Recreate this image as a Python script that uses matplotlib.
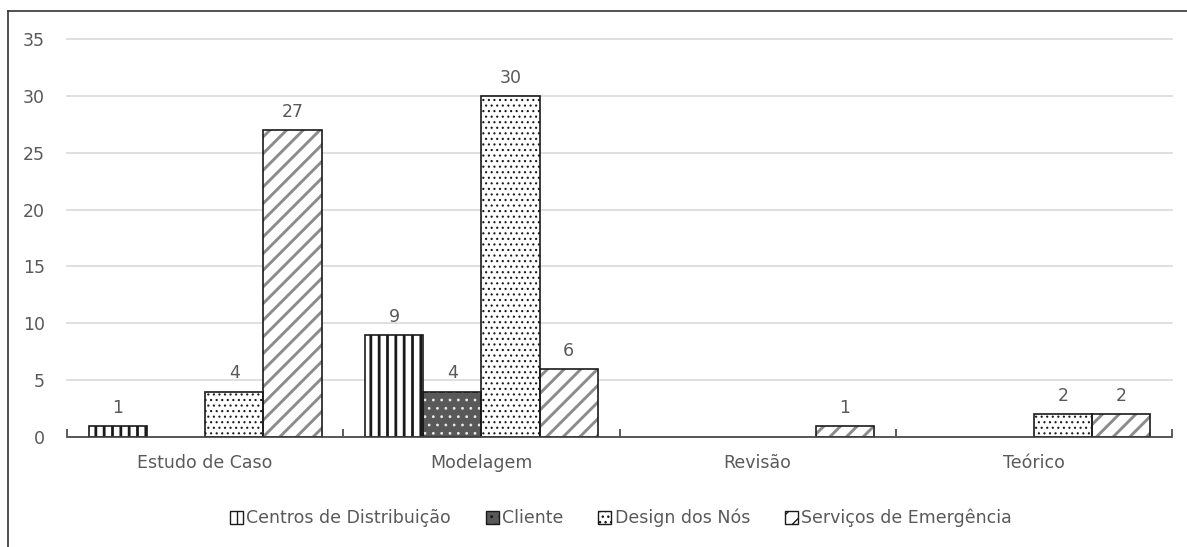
import matplotlib
matplotlib.use("Agg")
import matplotlib.pyplot as plt
from matplotlib.lines import Line2D
import numpy as np

plt.rcParams['font.family'] = ['DejaVu Sans']

categories = ["Estudo de Caso", "Modelagem", "Revisão", "Teórico"]
series = ["Centros de Distribuição", "Cliente", "Design dos Nós", "Serviços de Emergência"]
centros = [1, 9, 0, 0]
cliente = [0, 4, 0, 0]
design = [4, 30, 0, 2]
servicos = [27, 6, 1, 2]
values = [centros, cliente, design, servicos]

fills = ["white", "#595959", "white", "white"]
hatches = ["||", "..", "...", "//"]
hatch_colors = ["#1a1a1a", "#e8e8e8", "#1a1a1a", "#8c8c8c"]
hatch_lws = [2.0, 0.8, 0.8, 2.1]

W, H = 1187, 547
fig = plt.figure(figsize=(W / 100, H / 100), dpi=100)
ax = fig.add_axes([67 / W, (H - 437) / H, (1172 - 67) / W, (437 - 39) / H])

txt = "#595959"
fs = 12.5
n = len(categories)
x = np.arange(n)
bw = 0.211
for i, (vals, fc, hh, hc, hlw) in enumerate(zip(values, fills, hatches, hatch_colors, hatch_lws)):
    pos = x - 1.5 * bw + i * bw
    for xp, v in zip(pos, vals):
        if v == 0:
            continue
        with plt.rc_context({'hatch.linewidth': hlw}):
            ax.bar(xp, v, bw, color=fc, hatch=hh, edgecolor=hc, linewidth=0, zorder=3)
        ax.bar(xp, v, bw, fill=False, edgecolor="#1a1a1a", linewidth=1.2, zorder=4)
        ax.text(xp, v + 0.8, str(v), ha="center", va="bottom", color=txt, fontsize=fs)
    with plt.rc_context({'hatch.linewidth': min(hlw, 1.2)}):
        ax.bar(np.nan, np.nan, bw, color=fc, hatch=hh, edgecolor="#1a1a1a", linewidth=1.0,
               label=series[i])

ax.set_xlim(-0.5, n - 0.5)
ax.set_ylim(0, 35)
ax.set_yticks(range(0, 36, 5))
ax.yaxis.grid(True, color="#d9d9d9", linewidth=1.2, zorder=0)
for gl in ax.get_ygridlines():
    gl.set_clip_on(False)
ax.set_axisbelow(True)
for s in ["left", "right", "top"]:
    ax.spines[s].set_visible(False)
ax.spines["bottom"].set_color("#404040")
ax.spines["bottom"].set_linewidth(1.2)
ax.spines["bottom"].set_zorder(5)
ax.tick_params(axis="y", length=0, labelcolor=txt, labelsize=fs, pad=16)
ax.set_xticks(x)
ax.set_xticklabels(categories)
ax.tick_params(axis="x", length=0, labelcolor=txt, labelsize=fs, pad=12)
ax.set_xticks(np.arange(-0.5, n, 1.0), minor=True)
ax.tick_params(axis="x", which="minor", length=6, width=1.2, color="#404040", direction="in")

leg = fig.legend(loc="center", bbox_to_anchor=(621 / W, (H - 518) / H), ncol=4, frameon=False,
                 fontsize=fs, handlelength=0.75, handleheight=0.75, handletextpad=0.2,
                 columnspacing=2.0, labelcolor=txt)

fig.add_artist(Line2D([8 / W, 1.0], [(H - 11) / H, (H - 11) / H], transform=fig.transFigure,
                      color="#333333", linewidth=1.2))
fig.add_artist(Line2D([8 / W, 8 / W], [0.0, (H - 11) / H], transform=fig.transFigure,
                      color="#333333", linewidth=1.2))

fig.savefig("out.png", dpi=100)
